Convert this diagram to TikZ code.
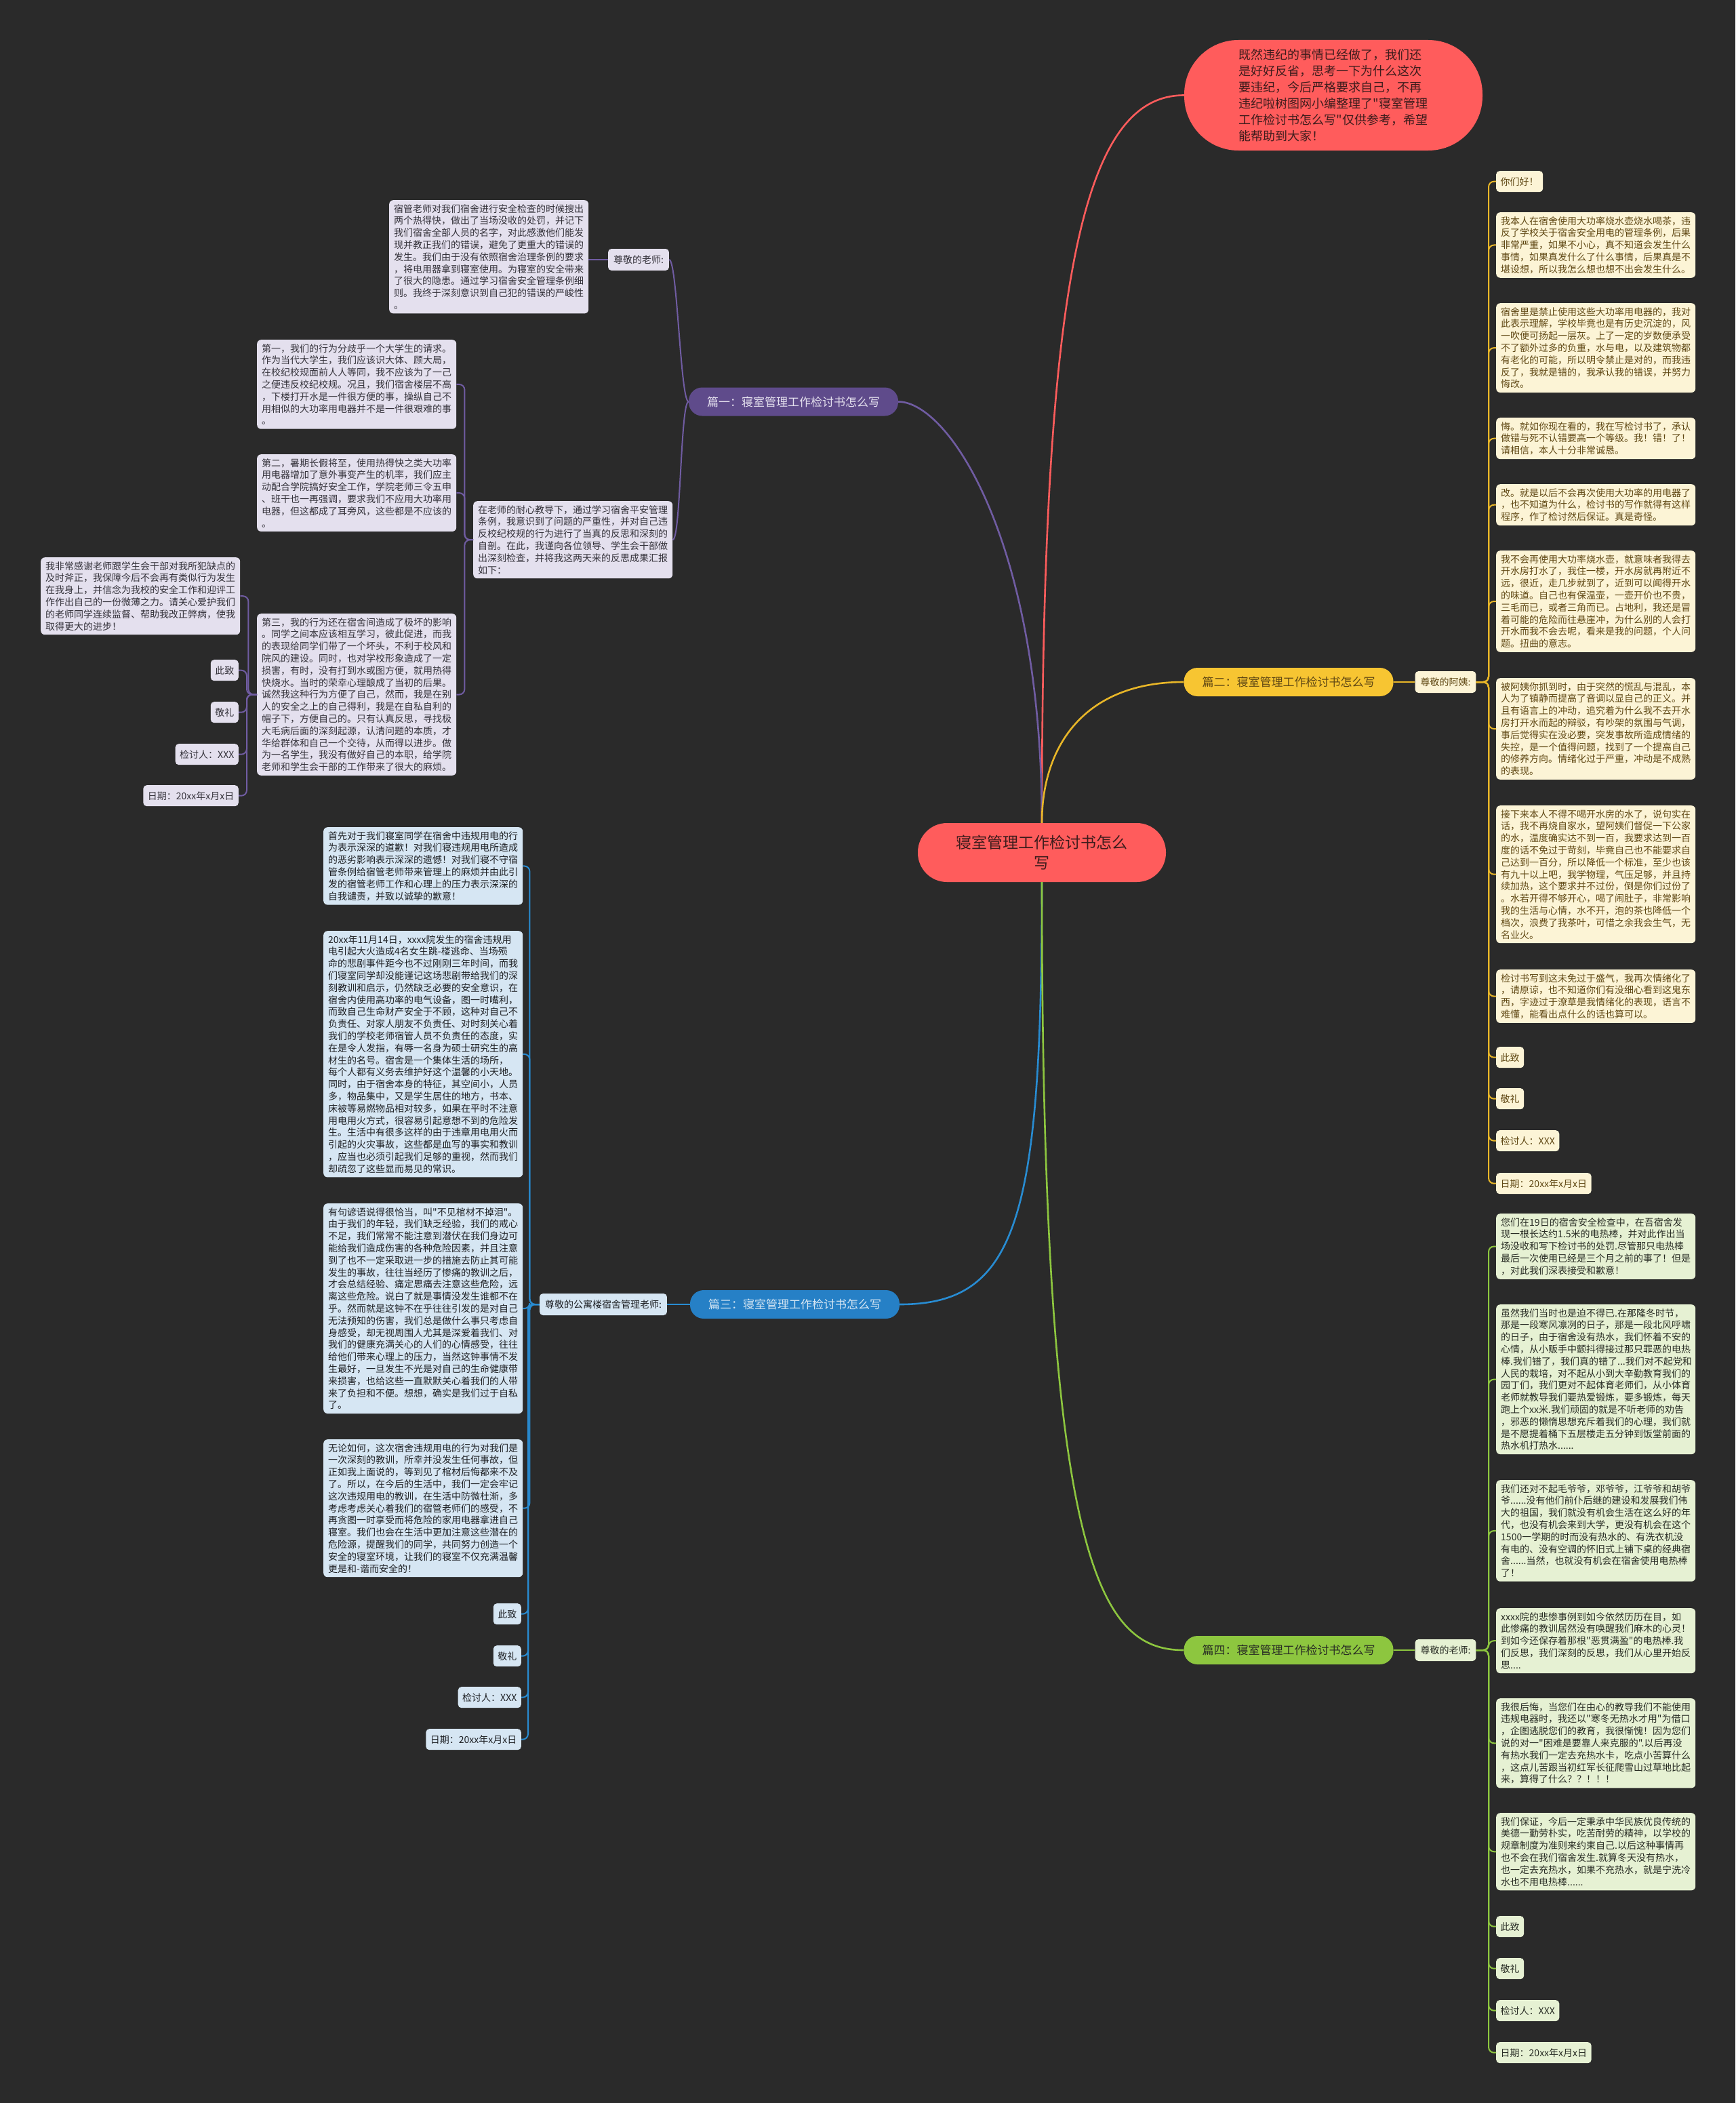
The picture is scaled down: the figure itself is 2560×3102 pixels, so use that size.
\documentclass[tikz,border=0pt]{standalone}
\usepackage{fontspec}
\setmainfont{Noto Sans CJK SC}[Ligatures=TeXOff]
\usepackage{tikz}
\newcommand{\dq}{{\char34}}
\definecolor{bgdark}{RGB}{42,42,42}
\definecolor{rootred}{RGB}{255,92,92}
\definecolor{roottext}{RGB}{62,28,28}
\definecolor{purdark}{RGB}{95,75,139}
\definecolor{purline}{RGB}{112,92,162}
\definecolor{purlight}{RGB}{228,224,238}
\definecolor{purtext}{RGB}{52,50,58}
\definecolor{yeldark}{RGB}{247,197,50}
\definecolor{yelline}{RGB}{232,182,40}
\definecolor{yellight}{RGB}{252,244,214}
\definecolor{yeltext}{RGB}{96,72,20}
\definecolor{bludark}{RGB}{38,128,198}
\definecolor{bluline}{RGB}{40,140,210}
\definecolor{blulight}{RGB}{214,230,243}
\definecolor{blutext}{RGB}{30,32,36}
\definecolor{grndark}{RGB}{141,198,63}
\definecolor{grnline}{RGB}{141,198,63}
\definecolor{grnlight}{RGB}{230,241,211}
\definecolor{grntext}{RGB}{40,44,36}

\begin{document}
\begin{tikzpicture}[x=1pt, y=-1pt,
  rootnode/.style={fill=rootred, text=roottext, rounded corners=43pt, minimum width=366pt, minimum height=87pt, align=center, inner sep=0pt, font=\fontsize{23}{30}\selectfont},
  intronode/.style={fill=rootred, text=roottext, rounded corners=80pt, minimum width=440pt, minimum height=163pt, align=left, font=\fontsize{18}{24}\selectfont},
  branch/.style={rounded corners=20pt, minimum width=309pt, minimum height=42pt, inner sep=0pt, font=\fontsize{17}{20}\selectfont},
  lab/.style={rounded corners=5pt, minimum height=32pt, inner xsep=8pt, inner ysep=0pt, font=\fontsize{14}{17}\selectfont},
  leaf/.style={rounded corners=6pt, inner xsep=7pt, inner ysep=6pt, text width=280pt, align=left, font=\fontsize{14}{17.8}\selectfont},
  tag/.style={rounded corners=5pt, minimum height=31pt, inner xsep=6.5pt, inner ysep=0pt, font=\fontsize{14}{17}\selectfont},
  pur/.style={fill=purlight, text=purtext},
  yel/.style={fill=yellight, text=yeltext},
  blu/.style={fill=blulight, text=blutext},
  grn/.style={fill=grnlight, text=grntext},
  trunk/.style={line width=2.6pt},
  link/.style={line width=2pt, rounded corners=8pt}]
  \useasboundingbox (0,0) rectangle (2560,3102);
  \fill[bgdark] (0,0) rectangle (2560,3102);

  \node[rootnode] (root) at (1537,1257.5) {寝室管理工作检讨书怎么\\写};
  \node[intronode] (intro) at (1967,140.5) {既然违纪的事情已经做了，我们还\\是好好反省，思考一下为什么这次\\要违纪，今后严格要求自己，不再\\违纪啦树图网小编整理了\dq 寝室管理\\工作检讨书怎么写\dq 仅供参考，希望\\能帮助到大家！};

  \node[branch, fill=purdark, text=purlight] (b1) at (1170.5,592.5) {篇一：寝室管理工作检讨书怎么写};
  \node[branch, fill=yeldark, text=yeltext] (b2) at (1901,1006) {篇二：寝室管理工作检讨书怎么写};
  \node[branch, fill=bludark, text=blulight] (b3) at (1172.5,1924) {篇三：寝室管理工作检讨书怎么写};
  \node[branch, fill=grndark, text=grntext] (b4) at (1901,2434) {篇四：寝室管理工作检讨书怎么写};

  \node[lab, pur] (lab1) at (942,383) {尊敬的老师:};
  \node[leaf, pur, anchor=north west] (pa) at (574,295) {宿管老师对我们宿舍进行安全检查的时候搜出\\两个热得快，做出了当场没收的处罚，并记下\\我们宿舍全部人员的名字，对此感激他们能发\\现并教正我们的错误，避免了更重大的错误的\\发生。我们由于没有依照宿舍治理条例的要求\\，将电用器拿到寝室使用。为寝室的安全带来\\了很大的隐患。通过学习宿舍安全管理条例细\\则。我终于深刻意识到自己犯的错误的严峻性\\。};
  \node[leaf, pur, anchor=north west] (pb) at (698,739) {在老师的耐心教导下，通过学习宿舍平安管理\\条例，我意识到了问题的严重性，并对自己违\\反校纪校规的行为进行了当真的反思和深刻的\\自剖。在此，我谨向各位领导、学生会干部做\\出深刻检查，并将我这两天来的反思成果汇报\\如下：};
  \node[leaf, pur, anchor=north west] (p1) at (379,501) {第一，我们的行为分歧乎一个大学生的请求。\\作为当代大学生，我们应该识大体、顾大局，\\在校纪校规面前人人等同，我不应该为了一己\\之便违反校纪校规。况且，我们宿舍楼层不高\\，下楼打开水是一件很方便的事，操纵自己不\\用相似的大功率用电器并不是一件很艰难的事\\。};
  \node[leaf, pur, anchor=north west] (p2) at (379,670) {第二，暑期长假将至，使用热得快之类大功率\\用电器增加了意外事变产生的机率，我们应主\\动配合学院搞好安全工作，学院老师三令五申\\、班干也一再强调，要求我们不应用大功率用\\电器，但这都成了耳旁风，这些都是不应该的\\。};
  \node[leaf, pur, anchor=north west] (p3) at (379,905) {第三，我的行为还在宿舍间造成了极坏的影响\\。同学之间本应该相互学习，彼此促进，而我\\的表现给同学们带了一个坏头，不利于校风和\\院风的建设。同时，也对学校形象造成了一定\\损害，有时，没有打到水或图方便，就用热得\\快烧水。当时的荣幸心理酿成了当初的后果。\\诚然我这种行为方便了自己，然而，我是在别\\人的安全之上的自己得利，我是在自私自利的\\帽子下，方便自己的。只有认真反思，寻找极\\大毛病后面的深刻起源，认清问题的本质，才\\华给群体和自己一个交待，从而得以进步。做\\为一名学生，我没有做好自己的本职，给学院\\老师和学生会干部的工作带来了很大的麻烦。};
  \node[leaf, pur, anchor=north west] (p4) at (60,822) {我非常感谢老师跟学生会干部对我所犯缺点的\\及时斧正，我保障今后不会再有类似行为发生\\在我身上，并信念为我校的安全工作和迎评工\\作作出自己的一份微薄之力。请关心爱护我们\\的老师同学连续监督、帮助我改正弊病，使我\\取得更大的进步！};
  \node[tag, pur, anchor=north east] (p5) at (352,973) {此致};
  \node[tag, pur, anchor=north east] (p6) at (352,1035) {敬礼};
  \node[tag, pur, anchor=north east] (p7) at (352,1097) {检讨人：XXX};
  \node[tag, pur, anchor=north east] (p8) at (352,1158) {日期：20xx年x月x日};

  \node[lab, yel] (lab2) at (2132.5,1006) {尊敬的阿姨:};
  \node[tag, yel, anchor=north west] (y1) at (2207,252) {你们好！};
  \node[leaf, yel, anchor=north west] (y2) at (2207,313) {我本人在宿舍使用大功率烧水壶烧水喝茶，违\\反了学校关于宿舍安全用电的管理条例，后果\\非常严重，如果不小心，真不知道会发生什么\\事情，如果真发什么了什么事情，后果真是不\\堪设想，所以我怎么想也想不出会发生什么。};
  \node[leaf, yel, anchor=north west] (y3) at (2207,447) {宿舍里是禁止使用这些大功率用电器的，我对\\此表示理解，学校毕竟也是有历史沉淀的，风\\一吹便可扬起一层灰。上了一定的岁数便承受\\不了额外过多的负重，水与电，以及建筑物都\\有老化的可能，所以明令禁止是对的，而我违\\反了，我就是错的，我承认我的错误，并努力\\悔改。};
  \node[leaf, yel, anchor=north west] (y4) at (2207,616) {悔。就如你现在看的，我在写检讨书了，承认\\做错与死不认错要高一个等级。我！错！了！\\请相信，本人十分非常诚恳。};
  \node[leaf, yel, anchor=north west] (y5) at (2207,714) {改。就是以后不会再次使用大功率的用电器了\\，也不知道为什么，检讨书的写作就得有这样\\程序，作了检讨然后保证。真是奇怪。};
  \node[leaf, yel, anchor=north west] (y6) at (2207,812) {我不会再使用大功率烧水壶，就意味者我得去\\开水房打水了，我住一楼，开水房就再附近不\\远，很近，走几步就到了，近到可以闻得开水\\的味道。自己也有保温壶，一壶开价也不贵，\\三毛而已，或者三角而已。占地利，我还是冒\\着可能的危险而往悬崖冲，为什么别的人会打\\开水而我不会去呢，看来是我的问题，个人问\\题。扭曲的意志。};
  \node[leaf, yel, anchor=north west] (y7) at (2207,1000) {被阿姨你抓到时，由于突然的慌乱与混乱，本\\人为了镇静而提高了音调以显自己的正义。并\\且有语言上的冲动，追究着为什么我不去开水\\房打开水而起的辩驳，有吵架的氛围与气调，\\事后觉得实在没必要，突发事故所造成情绪的\\失控，是一个值得问题，找到了一个提高自己\\的修养方向。情绪化过于严重，冲动是不成熟\\的表现。};
  \node[leaf, yel, anchor=north west] (y8) at (2207,1188) {接下来本人不得不喝开水房的水了，说句实在\\话，我不再烧自家水，望阿姨们督促一下公家\\的水，温度确实达不到一百，我要求达到一百\\度的话不免过于苛刻，毕竟自己也不能要求自\\己达到一百分，所以降低一个标准，至少也该\\有九十以上吧，我学物理，气压足够，并且持\\续加热，这个要求并不过份，倒是你们过份了\\。水若开得不够开心，喝了闹肚子，非常影响\\我的生活与心情，水不开，泡的茶也降低一个\\档次，浪费了我茶叶，可惜之余我会生气，无\\名业火。};
  \node[leaf, yel, anchor=north west] (y9) at (2207,1430) {检讨书写到这未免过于盛气，我再次情绪化了\\，请原谅，也不知道你们有没细心看到这鬼东\\西，字迹过于潦草是我情绪化的表现，语言不\\难懂，能看出点什么的话也算可以。};
  \node[tag, yel, anchor=north west] (y10) at (2207,1544) {此致};
  \node[tag, yel, anchor=north west] (y11) at (2207,1605) {敬礼};
  \node[tag, yel, anchor=north west] (y12) at (2207,1667) {检讨人：XXX};
  \node[tag, yel, anchor=north west] (y13) at (2207,1730) {日期：20xx年x月x日};

  \node[lab, blu] (lab3) at (890,1924) {尊敬的公寓楼宿舍管理老师:};
  \node[leaf, blu, anchor=north west] (c1) at (477,1220) {首先对于我们寝室同学在宿舍中违规用电的行\\为表示深深的道歉！对我们寝违规用电所造成\\的恶劣影响表示深深的遗憾！对我们寝不守宿\\管条例给宿管老师带来管理上的麻烦并由此引\\发的宿管老师工作和心理上的压力表示深深的\\自我谴责，并致以诚挚的歉意！};
  \node[leaf, blu, anchor=north west] (c2) at (477,1373) {20xx年11月14日，xxxx院发生的宿舍违规用\\电引起大火造成4名女生跳-楼逃命、当场殒\\命的悲剧事件距今也不过刚刚三年时间，而我\\们寝室同学却没能谨记这场悲剧带给我们的深\\刻教训和启示，仍然缺乏必要的安全意识，在\\宿舍内使用高功率的电气设备，图一时嘴利，\\而致自己生命财产安全于不顾，这种对自己不\\负责任、对家人朋友不负责任、对时刻关心着\\我们的学校老师宿管人员不负责任的态度，实\\在是令人发指，有辱一名身为硕士研究生的高\\材生的名号。宿舍是一个集体生活的场所，\\每个人都有义务去维护好这个温馨的小天地。\\同时，由于宿舍本身的特征，其空间小，人员\\多，物品集中，又是学生居住的地方，书本、\\床被等易燃物品相对较多，如果在平时不注意\\用电用火方式，很容易引起意想不到的危险发\\生。生活中有很多这样的由于违章用电用火而\\引起的火灾事故，这些都是血写的事实和教训\\，应当也必须引起我们足够的重视，然而我们\\却疏忽了这些显而易见的常识。};
  \node[leaf, blu, anchor=north west] (c3) at (477,1775) {有句谚语说得很恰当，叫\dq 不见棺材不掉泪\dq 。\\由于我们的年轻，我们缺乏经验，我们的戒心\\不足，我们常常不能注意到潜伏在我们身边可\\能给我们造成伤害的各种危险因素，并且注意\\到了也不一定采取进一步的措施去防止其可能\\发生的事故，往往当经历了惨痛的教训之后，\\才会总结经验、痛定思痛去注意这些危险，远\\离这些危险。说白了就是事情没发生谁都不在\\乎。然而就是这钟不在乎往往引发的是对自己\\无法预知的伤害，我们总是做什么事只考虑自\\身感受，却无视周围人尤其是深爱着我们、对\\我们的健康充满关心的人们的心情感受，往往\\给他们带来心理上的压力，当然这钟事情不发\\生最好，一旦发生不光是对自己的生命健康带\\来损害，也给这些一直默默关心着我们的人带\\来了负担和不便。想想，确实是我们过于自私\\了。};
  \node[leaf, blu, anchor=north west] (c4) at (477,2123) {无论如何，这次宿舍违规用电的行为对我们是\\一次深刻的教训，所幸并没发生任何事故，但\\正如我上面说的，等到见了棺材后悔都来不及\\了。所以，在今后的生活中，我们一定会牢记\\这次违规用电的教训，在生活中防微杜渐，多\\考虑考虑关心着我们的宿管老师们的感受，不\\再贪图一时享受而将危险的家用电器拿进自己\\寝室。我们也会在生活中更加注意这些潜在的\\危险源，提醒我们的同学，共同努力创造一个\\安全的寝室环境，让我们的寝室不仅充满温馨\\更是和-谐而安全的！};
  \node[tag, blu, anchor=north east] (c5) at (769,2365) {此致};
  \node[tag, blu, anchor=north east] (c6) at (769,2427) {敬礼};
  \node[tag, blu, anchor=north east] (c7) at (769,2488) {检讨人：XXX};
  \node[tag, blu, anchor=north east] (c8) at (769,2550) {日期：20xx年x月x日};

  \node[lab, grn] (lab4) at (2132.5,2434) {尊敬的老师:};
  \node[leaf, grn, anchor=north west] (g1) at (2207,1790) {您们在19日的宿舍安全检查中，在吾宿舍发\\现一根长达约1.5米的电热棒，并对此作出当\\场没收和写下检讨书的处罚.尽管那只电热棒\\最后一次使用已经是三个月之前的事了！但是\\，对此我们深表接受和歉意！};
  \node[leaf, grn, anchor=north west] (g2) at (2207,1924) {虽然我们当时也是迫不得已.在那隆冬时节，\\那是一段寒风凛冽的日子，那是一段北风呼啸\\的日子，由于宿舍没有热水，我们怀着不安的\\心情，从小贩手中颤抖得接过那只罪恶的电热\\棒.我们错了，我们真的错了...我们对不起党和\\人民的栽培，对不起从小到大辛勤教育我们的\\园丁们，我们更对不起体育老师们，从小体育\\老师就教导我们要热爱锻炼，要多锻炼，每天\\跑上个xx米.我们顽固的就是不听老师的劝告\\，邪恶的懒惰思想充斥着我们的心理，我们就\\是不愿提着桶下五层楼走五分钟到饭堂前面的\\热水机打热水......};
  \node[leaf, grn, anchor=north west] (g3) at (2207,2183) {我们还对不起毛爷爷，邓爷爷，江爷爷和胡爷\\爷......没有他们前仆后继的建设和发展我们伟\\大的祖国，我们就没有机会生活在这么好的年\\代，也没有机会来到大学，更没有机会在这个\\1500一学期的时而没有热水的、有洗衣机没\\有电的、没有空调的怀旧式上铺下桌的经典宿\\舍......当然，也就没有机会在宿舍使用电热棒\\了！};
  \node[leaf, grn, anchor=north west] (g4) at (2207,2372) {xxxx院的悲惨事例到如今依然历历在目，如\\此惨痛的教训居然没有唤醒我们麻木的心灵！\\到如今还保存着那根\dq 恶贯满盈\dq 的电热棒.我\\们反思，我们深刻的反思，我们从心里开始反\\思....};
  \node[leaf, grn, anchor=north west] (g5) at (2207,2505) {我很后悔，当您们在由心的教导我们不能使用\\违规电器时，我还以\dq 寒冬无热水才用\dq 为借口\\，企图逃脱您们的教育，我很惭愧！因为您们\\说的对一\dq 困难是要靠人来克服的\dq .以后再没\\有热水我们一定去充热水卡，吃点小苦算什么\\，这点儿苦跟当初红军长征爬雪山过草地比起\\来，算得了什么？？！！！};
  \node[leaf, grn, anchor=north west] (g6) at (2207,2674) {我们保证，今后一定秉承中华民族优良传统的\\美德一勤劳朴实，吃苦耐劳的精神，以学校的\\规章制度为准则来约束自己.以后这种事情再\\也不会在我们宿舍发生.就算冬天没有热水，\\也一定去充热水，如果不充热水，就是宁洗冷\\水也不用电热棒......};
  \node[tag, grn, anchor=north west] (g7) at (2207,2826) {此致};
  \node[tag, grn, anchor=north west] (g8) at (2207,2888) {敬礼};
  \node[tag, grn, anchor=north west] (g9) at (2207,2950) {检讨人：XXX};
  \node[tag, grn, anchor=north west] (g10) at (2207,3012) {日期：20xx年x月x日};

  \draw[trunk, rootred] (root.north) .. controls (1537,400) and (1600,140.5) .. (intro.west);
  \draw[trunk, purline] (root.north) .. controls (1537,800) and (1400,592.5) .. (b1.east);
  \draw[trunk, yelline] (root.north) .. controls (1537,1100) and (1600,1006) .. (b2.west);
  \draw[trunk, bluline] (root.south) .. controls (1537,1800) and (1500,1924) .. (b3.east);
  \draw[trunk, grnline] (root.south) .. controls (1537,2300) and (1620,2434) .. (b4.west);

  \draw[link, purline] (b1.west) .. controls +(-12,0) and +(12,0) .. (lab1.east);
  \draw[link, purline] (b1.west) .. controls +(-12,0) and +(12,0) .. (pb.east);
  \draw[link, purline] (lab1.west) -- (lab1.west -| pa.east);
  \draw[link, purline] (pb.west) -| ([xshift=12pt]p1.east) -- (p1.east);
  \draw[link, purline] (pb.west) -| ([xshift=12pt]p2.east) -- (p2.east);
  \draw[link, purline] (pb.west) -| ([xshift=12pt]p3.east) -- (p3.east);
  \draw[link, purline] (p3.west) -| ([xshift=12pt]p4.east) -- (p4.east);
  \draw[link, purline] (p3.west) -| ([xshift=12pt]p5.east) -- (p5.east);
  \draw[link, purline] (p3.west) -| ([xshift=12pt]p6.east) -- (p6.east);
  \draw[link, purline] (p3.west) -| ([xshift=12pt]p7.east) -- (p7.east);
  \draw[link, purline] (p3.west) -| ([xshift=12pt]p8.east) -- (p8.east);

  \draw[link, yelline] (b2.east) -- (lab2.west);
  \foreach \n in {y1,y2,y3,y4,y5,y6,y7,y8,y9,y10,y11,y12,y13}
    \draw[link, yelline] (lab2.east) -| ([xshift=-11pt]\n.west) -- (\n.west);

  \draw[link, bluline] (b3.west) -- (lab3.east);
  \foreach \n in {c1,c2,c3,c4,c5,c6,c7,c8}
    \draw[link, bluline] (lab3.west) -| ([xshift=10pt]\n.east) -- (\n.east);

  \draw[link, grnline] (b4.east) -- (lab4.west);
  \foreach \n in {g1,g2,g3,g4,g5,g6,g7,g8,g9,g10}
    \draw[link, grnline] (lab4.east) -| ([xshift=-11pt]\n.west) -- (\n.west);
\end{tikzpicture}
\end{document}
